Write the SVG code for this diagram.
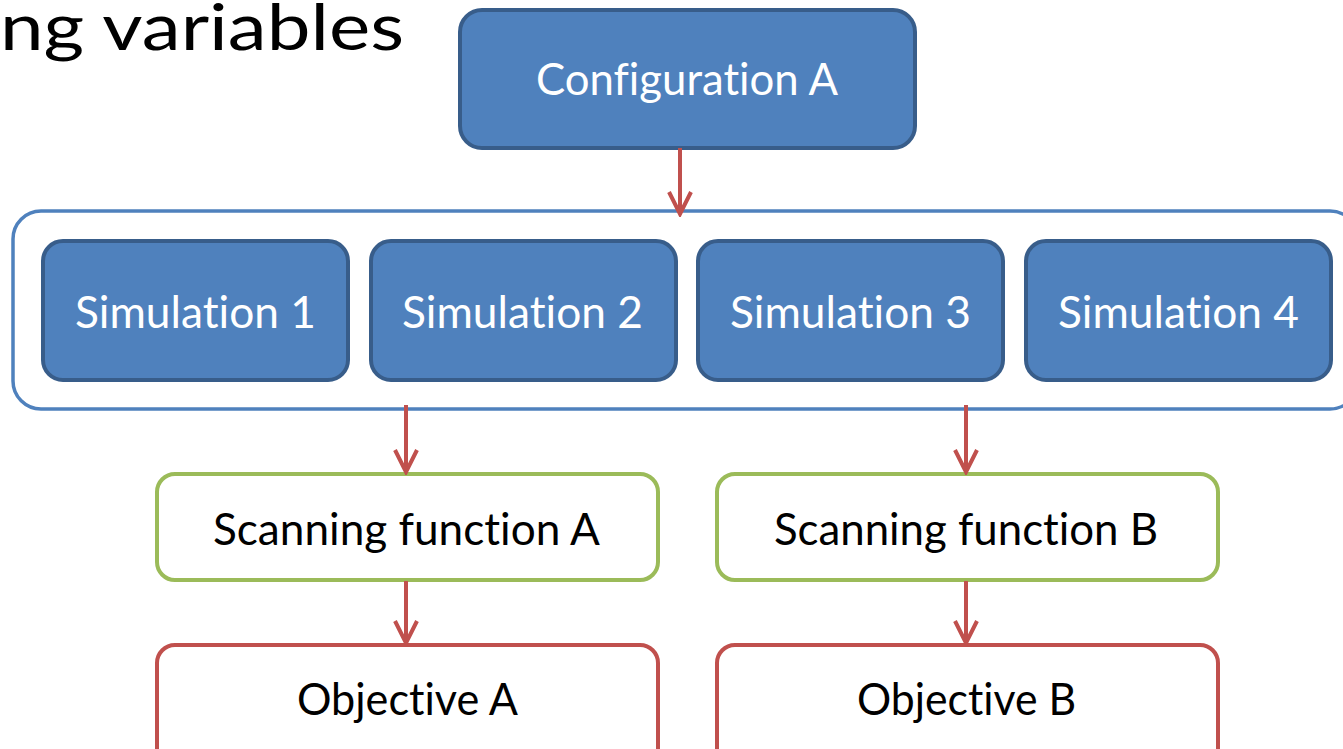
<svg xmlns="http://www.w3.org/2000/svg" width="1343" height="749" viewBox="0 0 1343 749">
  <style>
    .blue rect { fill: #4f81bd; stroke: #385d8a; stroke-width: 4; }
    .blue text { fill: #ffffff; }
    .green rect { fill: #ffffff; stroke: #9bbb59; stroke-width: 4; }
    .red rect { fill: #ffffff; stroke: #c0504d; stroke-width: 4; }
    text { font-family: "Lato", "Open Sans", sans-serif; font-size: 44px; fill: #000000; font-variant-ligatures: none; }
    #title { font-size: 64px; }
    .conn line { stroke: #c0504d; stroke-width: 4; marker-end: url(#arr); }
  </style>
  <defs>
    <marker id="arr" markerUnits="userSpaceOnUse" markerWidth="28" markerHeight="28" viewBox="0 0 28 28" refX="25" refY="14" orient="auto">
      <path d="M3,3 L25,14 L3,25" fill="none" stroke="#c0504d" stroke-width="4" stroke-linejoin="miter"/>
    </marker>
  </defs>
  <rect width="1343" height="749" fill="#ffffff"/>

  <text id="title" x="0" y="50" textLength="404" lengthAdjust="spacingAndGlyphs">ng variables</text>

  <g id="container">
    <rect x="13" y="211" width="1345" height="198" rx="28" fill="#ffffff" stroke="#4f81bd" stroke-width="3.5"/>
  </g>

  <g id="configA" class="blue">
    <rect x="460" y="10" width="455" height="138" rx="22"/>
    <text x="536" y="95" textLength="302" lengthAdjust="spacingAndGlyphs">Configuration A</text>
  </g>

  <g id="sim1" class="blue">
    <rect x="43" y="241" width="305" height="139" rx="20"/>
    <text x="75" y="328" textLength="241" lengthAdjust="spacingAndGlyphs">Simulation 1</text>
  </g>
  <g id="sim2" class="blue">
    <rect x="371" y="241" width="305" height="139" rx="20"/>
    <text x="402" y="328" textLength="241" lengthAdjust="spacingAndGlyphs">Simulation 2</text>
  </g>
  <g id="sim3" class="blue">
    <rect x="698" y="241" width="305" height="139" rx="20"/>
    <text x="730" y="328" textLength="241" lengthAdjust="spacingAndGlyphs">Simulation 3</text>
  </g>
  <g id="sim4" class="blue">
    <rect x="1026" y="241" width="305" height="139" rx="20"/>
    <text x="1058" y="328" textLength="241" lengthAdjust="spacingAndGlyphs">Simulation 4</text>
  </g>

  <g id="scanA" class="green">
    <rect x="157" y="474" width="501" height="106" rx="18"/>
    <text x="213" y="545" textLength="387" lengthAdjust="spacingAndGlyphs">Scanning function A</text>
  </g>
  <g id="scanB" class="green">
    <rect x="717" y="474" width="501" height="106" rx="18"/>
    <text x="774" y="545" textLength="384" lengthAdjust="spacingAndGlyphs">Scanning function B</text>
  </g>

  <g id="objA" class="red">
    <rect x="157" y="645" width="501" height="125" rx="18"/>
    <text x="297" y="715" textLength="221" lengthAdjust="spacingAndGlyphs">Objective A</text>
  </g>
  <g id="objB" class="red">
    <rect x="717" y="645" width="501" height="125" rx="18"/>
    <text x="857" y="715" textLength="219" lengthAdjust="spacingAndGlyphs">Objective B</text>
  </g>

  <g id="connectors" class="conn">
    <line x1="680" y1="148" x2="680" y2="214"/>
    <line x1="406" y1="405" x2="406" y2="472"/>
    <line x1="966" y1="405" x2="966" y2="472"/>
    <line x1="406" y1="581" x2="406" y2="643"/>
    <line x1="966" y1="581" x2="966" y2="643"/>
  </g>
</svg>
